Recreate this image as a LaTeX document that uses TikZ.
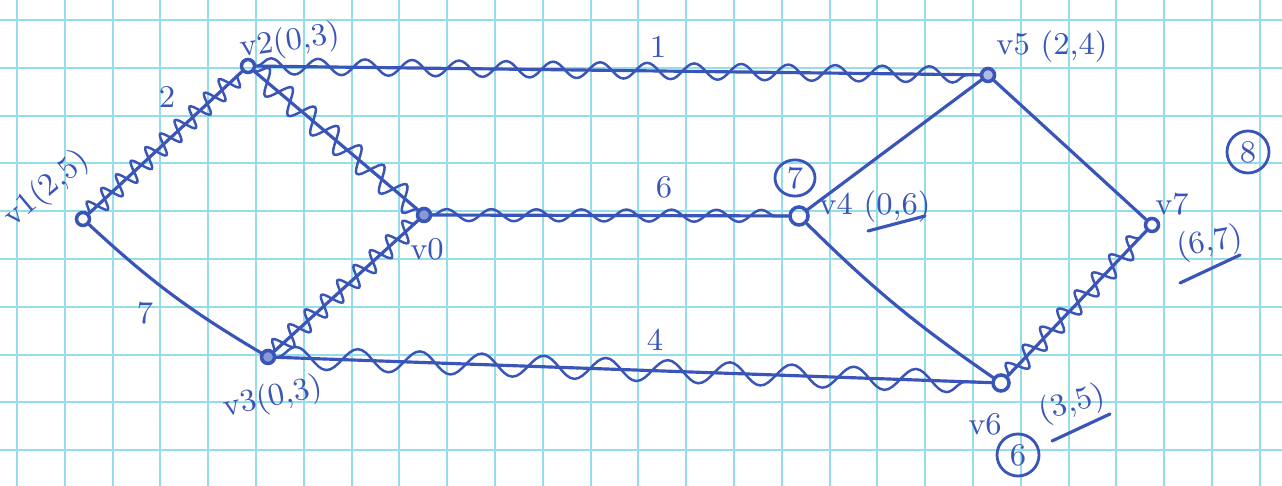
\documentclass[tikz,border=0pt]{standalone}
\usepackage{xcolor}
\usepackage{tikz}
\usetikzlibrary{decorations.pathmorphing,shapes.geometric,calc}
\definecolor{Ink}{HTML}{3A55B8}
\definecolor{GridLine}{HTML}{96DDEC}

\begin{document}
\begin{tikzpicture}[x=0.01cm, y=-0.01cm, every node/.style={font=\small, text=Ink},
  vert/.style={circle, draw=Ink, line width=1pt, inner sep=0pt, minimum size=0.13cm},
  plain/.style={draw=Ink, line width=0.9pt, line cap=round},
  wave/.style 2 args={draw=Ink, line width=0.7pt, decorate,
    decoration={snake, segment length=#1, amplitude=#2}},
  ring/.style={circle, draw=Ink, line width=0.8pt, inner sep=1.5pt}]
  \useasboundingbox (0,0) rectangle (1282,486);
  \fill[white] (0,0) rectangle (1282,486);

  % grid paper
  \foreach \k in {0,...,26}
    \draw[GridLine, line width=0.6pt] ({17+47.8*\k},0) -- ({17+47.8*\k},486);
  \foreach \k in {0,...,9}
    \draw[GridLine, line width=0.6pt] (0,{20+47.8*\k}) -- (1282,{20+47.8*\k});

  % vertices
  \node[vert] (v1) at (83,219) {};
  \node[vert] (v2) at (248,66) {};
  \node[vert, fill=Ink!60] (v0) at (424,215) {};
  \node[vert, fill=Ink!60] (v3) at (268,357) {};
  \node[vert, minimum size=0.18cm] (v4) at (799,216) {};
  \node[vert, fill=Ink!40] (v5) at (988,75) {};
  \node[vert] (v7) at (1152,225) {};
  \node[vert, minimum size=0.16cm] (v6) at (1001,383) {};

  % wavy edges
  \foreach \a/\b/\s/\m in {v1/v2/0.2cm/0.1cm, v2/v5/0.47cm/0.08cm, v2/v0/0.3cm/0.12cm,
      v3/v0/0.22cm/0.1cm, v0/v4/0.45cm/0.06cm, v3/v6/0.62cm/0.11cm, v6/v7/0.25cm/0.1cm} {
    \draw[plain] (\a) -- (\b);
    \draw[wave={\s}{\m}] (\a) -- (\b);
  }

  % plain edges
  \draw[plain] (v1) to[bend right=6] (v3);
  \draw[plain] (v4) -- (v5);
  \draw[plain] (v4) to[bend right=5] (v6);
  \draw[plain] (v5) -- (v7);

  % weights
  \node (w12) at (167,97) {2};
  \node (w25) at (658,47) {1};
  \node (w04) at (664,187) {6};
  \node (w36) at (655,340) {4};
  \node (w13) at (145,313) {7};

  % vertex labels
  \node[rotate=40, inner sep=0pt] (l1) at (47,189) {v1(2,5)};
  \node[rotate=8] (l2) at (290,42) {v2(0,3)};
  \node (l0) at (427,249) {v0};
  \node[rotate=12] (l3) at (273,398) {v3(0,3)};
  \node (l4) at (875,207) {v4 (0,6)};
  \node (l5) at (1052,47) {v5 (2,4)};
  \node (l7) at (1172,204) {v7};
  \node[rotate=10] (l7c) at (1210,243) {(6,7)};
  \node (l6) at (985,424) {v6};
  \node[rotate=15] (l6c) at (1072,404) {(3,5)};

  % circled marks
  \node[ellipse, draw=Ink, line width=0.8pt, inner sep=0.5pt, minimum width=0.4cm] (c4) at (795,178) {7};
  \node[ring] (c7) at (1248,152) {8};
  \node[ring] (c6) at (1018,455) {6};

  % underlines
  \draw[plain] (868,231) -- (925,216);
  \draw[plain] (1180,283) -- (1240,255);
  \draw[plain] (1052,441) -- (1110,414);
\end{tikzpicture}
\end{document}
